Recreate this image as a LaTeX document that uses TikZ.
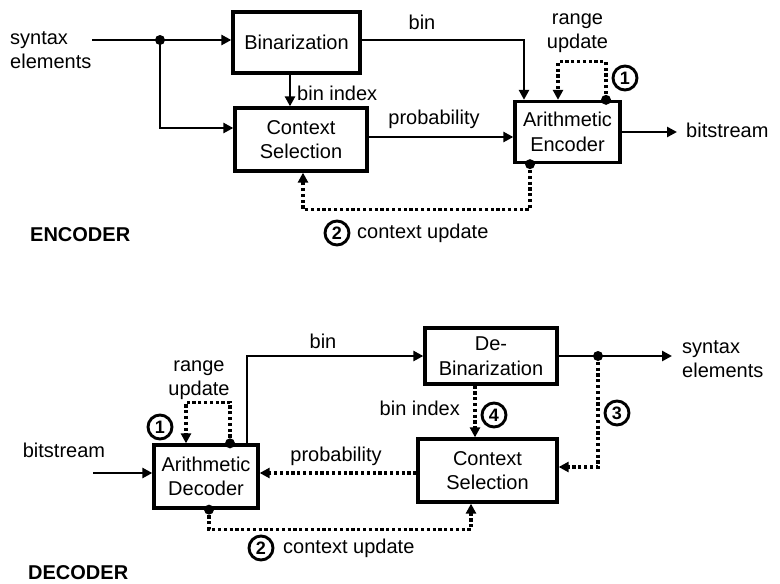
\documentclass[tikz,border=0pt]{standalone}
\usepackage{fontspec}
\setmainfont{Liberation Sans}
\usetikzlibrary{arrows.meta}
\begin{document}
\begin{tikzpicture}[x=1pt,y=-1pt,
  font=\fontsize{20}{24.5}\selectfont,
  box/.style={draw,line width=3.3pt,align=center,inner sep=0pt},
  arr/.style={line width=2.9pt,-{Triangle[length=10pt,width=10pt]}},
  dotarr/.style={line width=3.2pt,dash pattern=on 3.2pt off 2.6pt,-{Triangle[length=10pt,width=10pt]}},
  jdot/.style={circle,fill,inner sep=0pt,minimum size=10pt},
  num/.style={circle,draw,line width=2.9pt,inner sep=0pt,minimum size=24pt,font=\fontsize{18}{18}\selectfont\bfseries},
  lbl/.style={inner sep=0pt,align=center}]
\useasboundingbox (0,0) rectangle (780,584);

% ---------------- ENCODER ----------------
\node[box,minimum width=127pt,minimum height=61pt] (bin) at (296.5,42.5) {Binarization};
\node[box,minimum width=132pt,minimum height=63pt] (ctx) at (301,139.5) {Context\\Selection};
\node[box,minimum width=105pt,minimum height=61pt] (ae) at (567.5,132) {Arithmetic\\Encoder};

\node[lbl,align=left,anchor=west] (sein) at (10,50) {syntax\\elements};
\coordinate (se) at (92,40);
\node[jdot] (j1) at (160,40) {};
\draw[arr] (se) -- (j1.center) -- (j1 -| bin.west);
\draw[arr] (j1.center) |- ([yshift=11.5pt]ctx.west);

\draw[arr] ([xshift=-6.5pt]bin.south) -- ([xshift=-6.5pt]bin.south |- ctx.north);
\node[lbl,anchor=west] (lbi) at (297,93) {bin index};

\draw[arr] ([yshift=2.5pt]bin.east) -| ([xshift=-43.5pt]ae.north);
\node[lbl] (lbin) at (422,22) {bin};

\draw[arr] ([yshift=2.5pt]ctx.east) -- ([yshift=2.5pt]ctx.east -| ae.west);
\node[lbl] (lprob) at (434,119) {probability};

\node[jdot] (r1) at ([xshift=38.5pt]ae.north) {};
\draw[dotarr] (r1.center) -- ++(0,-38) -| ([xshift=-9.5pt]ae.north);
\node[lbl] (lru) at (577.5,33) {range\\update};
\node[num] (n1e) at (625,78) {1};

\coordinate (bso) at (677,132);
\draw[arr] (ae.east) -- (bso);
\node[lbl,anchor=west] (lbs) at (686,130) {bitstream};

\node[jdot] (c1) at ([xshift=-37.5pt]ae.south) {};
\draw[dotarr] (c1.center) -- ++(0,45) -| ([xshift=2pt]ctx.south);
\node[num] (n2e) at (337,233) {2};
\node[lbl,anchor=west] (lcu) at (357,233) {context update};

\node[lbl,anchor=west,font=\fontsize{20}{24}\selectfont\bfseries] (enc) at (30,235) {ENCODER};

% ---------------- DECODER ----------------
\node[box,minimum width=104pt,minimum height=63pt] (ad) at (206,476.5) {Arithmetic\\Decoder};
\node[box,minimum width=132pt,minimum height=56pt] (db) at (491,356) {De-\\Binarization};
\node[box,minimum width=139pt,minimum height=63pt] (dc) at (487.5,470.5) {Context\\Selection};

\node[lbl] (dbs) at (64,450) {bitstream};
\coordinate (bsi) at (93,473);
\draw[arr] (bsi) -- (bsi -| ad.west);

\node[jdot] (r2) at ([xshift=24pt]ad.north) {};
\draw[dotarr] (r2.center) -- ++(0,-41) -| ([xshift=-20pt]ad.north);
\node[lbl] (dru) at (199,380) {range\\update};
\node[num] (n1d) at (160,427) {1};

\draw[arr] ([xshift=41pt]ad.north) |- (db.west);
\node[lbl] (dlbin) at (323,341) {bin};

\coordinate (seo) at (672,356);
\node[jdot] (j2) at (598,356) {};
\draw[arr] (db.east) -- (seo);
\node[lbl,align=left,anchor=west] (dseo) at (682,359) {syntax\\elements};

\draw[dotarr] (j2.center) |- ([yshift=3.5pt]dc.east);
\node[num] (n3) at (617,413) {3};

\draw[dotarr] ([xshift=-16pt]db.south) -- ([xshift=-16pt]db.south |- dc.north);
\node[num] (n4) at (494,415) {4};
\node[lbl,anchor=east] (dlbi) at (460,408) {bin index};

\draw[dotarr] ([yshift=-2.5pt]dc.west) -- ([yshift=-2.5pt]dc.west -| ad.east);
\node[lbl] (dlprob) at (336,456) {probability};

\node[jdot] (c2) at ([xshift=3pt]ad.south) {};
\draw[dotarr] (c2.center) -- ++(0,20) -| ([xshift=-16.5pt]dc.south);
\node[num] (n2d) at (261,548) {2};
\node[lbl,anchor=west] (dlcu) at (283,548) {context update};

\node[lbl,anchor=west,font=\fontsize{20}{24}\selectfont\bfseries] (dec) at (28,573) {DECODER};
\end{tikzpicture}
\end{document}
